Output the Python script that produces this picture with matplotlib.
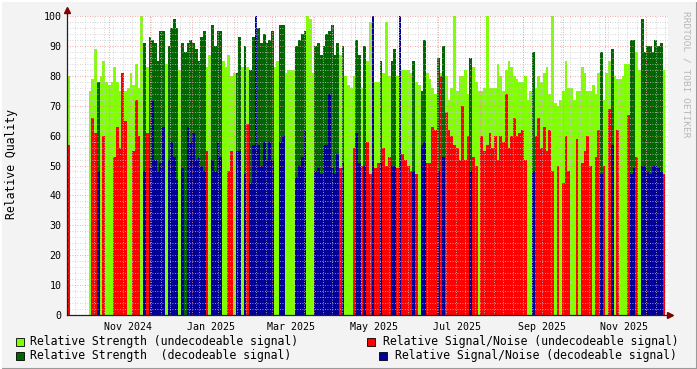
import numpy as np
import pandas as pd
import matplotlib
matplotlib.use("Agg")
import matplotlib.pyplot as plt
import matplotlib.dates as mdates
from matplotlib.ticker import MultipleLocator
from matplotlib.patches import Rectangle
from matplotlib.lines import Line2D

# 2-day bins starting 2024-10-01
start = np.datetime64("2024-10-01")
step_days = 2

# u = undecodeable signal, d = decodeable signal (per bin)
kind = ("u-------uu" "uduuuuuuuu" "uuuuuuuudu" "dddddduddd" "dudddddddd"
        "duudddduuu" "uuddududdd" "dddddduudd" "uuuudddduu" "uddddddddd"
        "uduuuuddud" "uuduuduuud" "duduuuuduu" "dduuuududu" "uuuuuuuudu"
        "uuuuuuuuuu" "uuuuuuuuuu" "uduuuuuuuu" "uuuuuuuuuu" "uuuuuuduuu"
        "duuuuuuddu" "uddddddddu")

strength = [80, 0, 0, 0, 0, 0, 0, 0, 75, 79,
            89, 78, 80, 85, 78, 77, 78, 83, 78, 75,
            76, 75, 76, 81, 77, 84, 76, 100, 91, 83,
            93, 92, 91, 85, 95, 95, 84, 90, 96, 99,
            96, 82, 91, 88, 91, 92, 91, 89, 85, 93,
            95, 83, 87, 97, 90, 95, 95, 85, 83, 87,
            80, 81, 81, 93, 83, 90, 83, 82, 93, 92,
            96, 91, 94, 91, 92, 95, 83, 85, 97, 97,
            81, 82, 82, 82, 90, 92, 94, 95, 100, 99,
            81, 90, 91, 87, 90, 94, 95, 97, 87, 91,
            87, 90, 80, 77, 76, 80, 92, 87, 76, 90,
            85, 98, 81, 78, 78, 85, 81, 98, 80, 85,
            89, 80, 98, 82, 82, 82, 81, 85, 78, 77,
            75, 92, 81, 79, 76, 74, 86, 81, 90, 80,
            72, 76, 100, 75, 80, 80, 82, 74, 86, 83,
            78, 75, 75, 76, 100, 76, 76, 76, 84, 80,
            75, 82, 85, 83, 80, 79, 78, 78, 80, 72,
            75, 88, 76, 80, 78, 81, 83, 74, 100, 71,
            70, 72, 75, 85, 76, 76, 72, 75, 75, 83,
            81, 75, 75, 77, 74, 81, 88, 72, 81, 85,
            89, 80, 79, 79, 80, 84, 84, 92, 92, 88,
            82, 99, 88, 90, 90, 88, 92, 90, 91, 82]

snr = [57, 0, 0, 0, 0, 0, 0, 0, 0, 66,
       61, 48, 0, 60, 0, 0, 0, 53, 63, 56,
       81, 65, 0, 0, 55, 72, 60, 0, 48, 61,
       49, 72, 52, 48, 51, 63, 0, 52, 58, 53,
       45, 0, 49, 0, 63, 58, 61, 52, 53, 50,
       48, 55, 0, 52, 48, 58, 53, 0, 0, 48,
       55, 0, 55, 55, 0, 47, 64, 44, 57, 100,
       57, 50, 58, 52, 58, 52, 0, 0, 58, 60,
       0, 0, 0, 0, 46, 50, 53, 62, 0, 0,
       0, 48, 49, 47, 57, 57, 74, 49, 47, 54,
       49, 51, 0, 0, 0, 56, 61, 51, 50, 50,
       58, 47, 100, 49, 51, 51, 56, 50, 53, 50,
       50, 49, 100, 54, 52, 50, 48, 48, 47, 0,
       57, 58, 51, 51, 63, 62, 48, 80, 53, 68,
       62, 60, 57, 56, 52, 70, 52, 60, 48, 53,
       50, 0, 60, 55, 57, 61, 56, 60, 52, 60,
       58, 74, 56, 60, 66, 60, 61, 62, 52, 0,
       0, 48, 60, 66, 56, 63, 55, 62, 48, 0,
       50, 0, 44, 60, 48, 0, 0, 59, 0, 51,
       55, 60, 50, 0, 53, 62, 47, 50, 0, 69,
       57, 0, 62, 0, 0, 0, 67, 47, 49, 53,
       0, 50, 50, 48, 47, 50, 50, 49, 48, 47]

labels = ["Relative Strength (undecodeable signal)",
          "Relative Signal/Noise (undecodeable signal)",
          "Relative Strength  (decodeable signal)",
          "Relative Signal/Noise (decodeable signal)"]
colors = ["#80ff00", "#ff0000", "#006600", "#000099"]

W, H = 697, 369
mono = "DejaVu Sans Mono"

kinds = np.array(list(kind))
s = np.array(strength, float)
q = np.array(snr, float)
lg = np.where(kinds == "u", s, 0)
dg = np.where(kinds == "d", s, 0)
rd = np.where(kinds == "u", q, 0)
bl = np.where(kinds == "d", q, 0)

t = start + np.arange(len(s) + 1) * np.timedelta64(step_days, "D")
x = mdates.date2num(t)

fig = plt.figure(figsize=(W / 100, H / 100), dpi=100, facecolor="#f3f3f3")
ax = fig.add_axes([67 / W, 1 - 315 / H, 601 / W, 299 / H])
ax.set_facecolor("white")

# draw order like rrdtool: strength, then snr on top
for v, c in [(lg, colors[0]), (dg, colors[2]), (rd, colors[1]), (bl, colors[3])]:
    ax.fill_between(x, np.append(v, v[-1]), step="post", color=c, lw=0, zorder=1)

x0 = mdates.date2num(np.datetime64("2024-10-01"))
x1 = mdates.date2num(np.datetime64("2025-12-17"))
ax.set_xlim(x0, x1)
ax.set_ylim(0, 100)

# grid (on top of the areas)
for d in pd.date_range("2024-09-30", "2025-12-20", freq="W-MON"):
    ax.axvline(mdates.date2num(d), color="#c8c8c8", lw=0.6, ls=(0, (1, 2)), zorder=2.5)
for d in pd.date_range("2024-10-01", "2025-12-20", freq="MS"):
    ax.axvline(mdates.date2num(d), color="#e89090", lw=0.6, ls=(0, (1, 2)), zorder=2.6)
ax.yaxis.set_major_locator(MultipleLocator(10))
ax.yaxis.set_minor_locator(MultipleLocator(2))
ax.set_axisbelow(False)
ax.grid(which="minor", axis="y", color="#c8c8c8", lw=0.6, ls=(0, (1, 2)))
ax.grid(which="major", axis="y", color="#e89090", lw=0.6, ls=(0, (1, 2)))

ax.xaxis.set_major_locator(mdates.MonthLocator(bymonth=[1, 3, 5, 7, 9, 11], bymonthday=15))
ax.xaxis.set_major_formatter(mdates.DateFormatter("%b %Y"))
ax.tick_params(axis="both", which="both", length=0, labelsize=7.2, colors="#000000")
ax.tick_params(axis="x", pad=5)
ax.tick_params(axis="y", pad=4)
for lab in ax.get_xticklabels() + ax.get_yticklabels():
    lab.set_fontfamily(mono)

for sp in ax.spines.values():
    sp.set_visible(False)
ax.plot([0, 0], [0, 1.02], transform=ax.transAxes, color="#202020", lw=0.9, clip_on=False, zorder=5)
ax.plot([0, 1.004], [0, 0], transform=ax.transAxes, color="#202020", lw=0.9, clip_on=False, zorder=5)
ax.plot(0, 1.02, marker="^", ms=4, color="#800000", transform=ax.transAxes, clip_on=False, zorder=6)
ax.plot(1.004, 0, marker=">", ms=4, color="#800000", transform=ax.transAxes, clip_on=False, zorder=6)

fig.text(12 / W, 1 - 164 / H, "Relative Quality", rotation=90, ha="center", va="center",
         fontsize=8.3, family=mono)
fig.text(686 / W, 1 - 74 / H, "RRDTOOL / TOBI OETIKER", rotation=270, ha="center", va="center",
         fontsize=6.8, family=mono, color="#b8b8b8")

# legend
legend_pos = [(16, 30, 341), (367, 383, 341), (16, 30, 355), (379, 395, 355)]
for (bx, tx, ty), lab, c in zip(legend_pos, labels, colors):
    fig.add_artist(Rectangle((bx / W, 1 - (ty + 4.5) / H), 8 / W, 8 / H, transform=fig.transFigure,
                             facecolor=c, edgecolor="black", lw=0.6))
    fig.text(tx / W, 1 - ty / H, lab, ha="left", va="center", fontsize=8.3, family=mono)

# 3d frame around the canvas
fig.add_artist(Line2D([0, 1], [0.5 / H, 0.5 / H], transform=fig.transFigure, color="#9a9a9a", lw=1.5))
fig.add_artist(Line2D([1 - 0.5 / W, 1 - 0.5 / W], [0, 1], transform=fig.transFigure, color="#9a9a9a", lw=1.5))
fig.add_artist(Line2D([0, 1], [1 - 0.5 / H, 1 - 0.5 / H], transform=fig.transFigure, color="#ffffff", lw=1.5))
fig.add_artist(Line2D([0.5 / W, 0.5 / W], [0, 1], transform=fig.transFigure, color="#ffffff", lw=1.5))

fig.savefig("out.png", dpi=100, facecolor=fig.get_facecolor())
